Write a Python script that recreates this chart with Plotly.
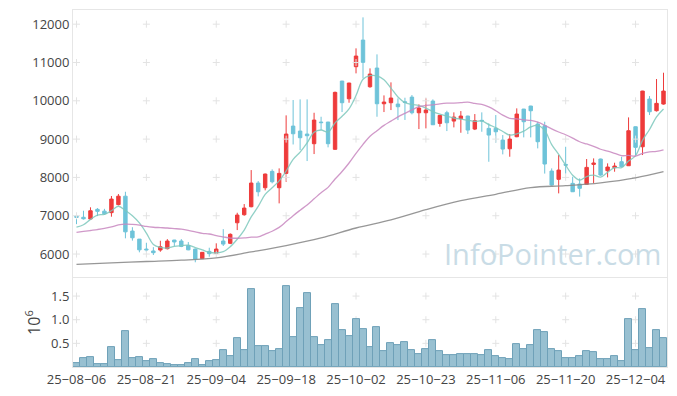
import plotly.graph_objects as go
import pandas as pd

# ---------------- data ----------------
dates = [
    "25-08-06", "25-08-07", "25-08-08", "25-08-11", "25-08-12", "25-08-13", "25-08-14", "25-08-18",
    "25-08-19", "25-08-20", "25-08-21", "25-08-22", "25-08-25", "25-08-26", "25-08-27", "25-08-28",
    "25-08-29", "25-09-01", "25-09-02", "25-09-03", "25-09-04", "25-09-05", "25-09-08", "25-09-09",
    "25-09-10", "25-09-11", "25-09-12", "25-09-15", "25-09-16", "25-09-17", "25-09-18", "25-09-19",
    "25-09-22", "25-09-23", "25-09-24", "25-09-25", "25-09-26", "25-09-29", "25-09-30", "25-10-01",
    "25-10-02", "25-10-10", "25-10-13", "25-10-14", "25-10-15", "25-10-16", "25-10-17", "25-10-20",
    "25-10-21", "25-10-22", "25-10-23", "25-10-24", "25-10-27", "25-10-28", "25-10-29", "25-10-30",
    "25-10-31", "25-11-03", "25-11-04", "25-11-05", "25-11-06", "25-11-07", "25-11-10", "25-11-11",
    "25-11-12", "25-11-13", "25-11-14", "25-11-17", "25-11-18", "25-11-19", "25-11-20", "25-11-21",
    "25-11-24", "25-11-25", "25-11-26", "25-11-27", "25-11-28", "25-12-01", "25-12-02", "25-12-03",
    "25-12-04", "25-12-05", "25-12-08", "25-12-09", "25-12-10",
]

open_ = [6990, 6960, 6914, 7167, 7120, 7080, 7290, 7510, 6600, 6390,
         6130, 6080, 6105, 6140, 6365, 6340, 6225, 6130, 5880, 6070,
         6020, 6340, 6280, 6817, 7026, 7235, 7853, 7731, 8158, 7731,
         8105, 9340, 9210, 9132, 8880, 9445, 9445, 8733, 10515, 10053,
         10890, 11585, 10367, 10855, 9923, 9950, 9915, 9975, 10096, 9688,
         9688, 9993, 9410, 9688, 9471, 9532, 9602, 9262, 9490, 9280,
         9280, 8975, 8748, 9062, 9784, 9863, 9393, 9349, 8166, 7950,
         8340, 7845, 7827, 7820, 8340, 8480, 8175, 8253, 8410, 8305,
         9323, 8800, 10045, 9741, 9915]
high = [7000, 7130, 7220, 7200, 7180, 7515, 7566, 7626, 6700, 6390,
        6295, 6180, 6347, 6390, 6370, 6390, 6313, 6140, 6050, 6165,
        6280, 6650, 6540, 7078, 7305, 8192, 7905, 8100, 8210, 8236,
        9620, 10020, 10037, 10037, 9688, 9584, 9450, 10240, 10520, 10470,
        11369, 12178, 10846, 11212, 10141, 10481, 10063, 10080, 10150, 9907,
        10063, 10037, 9625, 9740, 9698, 9732, 9610, 9654, 9698, 9410,
        9628, 9106, 9132, 9802, 9790, 9870, 9454, 9454, 8236, 8584,
        8800, 8018, 7975, 8480, 8497, 8490, 8367, 8384, 8540, 9567,
        9330, 10260, 10124, 10568, 10733]
low = [6780, 6900, 6890, 6990, 7020, 6975, 7270, 6410, 6350, 6045,
       6050, 5975, 6060, 6120, 6210, 6180, 6100, 5785, 5870, 5930,
       6010, 6210, 6260, 6626, 7000, 7220, 7505, 7662, 7845, 7323,
       7887, 8860, 8714, 8427, 8610, 9236, 8785, 8720, 9706, 9950,
       10716, 10586, 10340, 9584, 9706, 9758, 9497, 9500, 9646, 9262,
       9280, 9370, 9323, 9210, 9306, 9166, 9132, 9236, 9192, 8409,
       8906, 8602, 8540, 9050, 9045, 9045, 8758, 8100, 7780, 7584,
       8100, 7620, 7500, 7810, 7850, 8040, 8001, 8149, 8270, 8300,
       8584, 8584, 9628, 9720, 9900]
close = [6960, 6920, 7130, 7115, 7050, 7435, 7510, 6580, 6425, 6110,
         6110, 6035, 6190, 6340, 6315, 6200, 6110, 5870, 6045, 6010,
         6130, 6260, 6515, 7018, 7200, 7853, 7626, 8088, 7887, 8105,
         9132, 9140, 9036, 9088, 9497, 9430, 8880, 10220, 9950, 10463,
         11168, 11003, 10698, 9923, 9967, 10072, 9845, 9955, 9688, 9810,
         9758, 9375, 9620, 9427, 9575, 9602, 9236, 9480, 9475, 9106,
         9192, 8740, 9001, 9654, 9454, 9740, 8932, 8350, 7800, 8192,
         8320, 7626, 7715, 8262, 8375, 8062, 8271, 8297, 8280, 9219,
         8785, 10254, 9714, 9933, 10254]

volume = [90000, 190000, 210000, 70000, 70000, 430000, 140000, 760000, 180000, 210000,
          120000, 160000, 90000, 70000, 50000, 50000, 90000, 160000, 50000, 120000,
          140000, 350000, 240000, 610000, 350000, 1650000, 450000, 450000, 330000, 380000,
          1720000, 640000, 1250000, 1560000, 640000, 470000, 570000, 1330000, 780000, 660000,
          1010000, 800000, 430000, 850000, 330000, 510000, 470000, 530000, 350000, 280000,
          380000, 570000, 330000, 260000, 260000, 280000, 280000, 280000, 260000, 350000,
          240000, 180000, 160000, 490000, 370000, 470000, 790000, 730000, 370000, 330000,
          180000, 180000, 240000, 330000, 310000, 160000, 160000, 240000, 120000, 1020000,
          350000, 1230000, 390000, 790000, 620000]

ma5_head = [6700, 6765, 6905, 7018]
ma20_head = [6566, 6590, 6615, 6640, 6670, 6710, 6760, 6783, 6775, 6755,
             6720, 6700, 6690, 6680, 6665, 6650, 6620, 6580, 6540]
ma60_idx = [0, 5, 10, 15, 20, 25, 30, 35, 40, 45, 50, 55, 60, 65, 70, 75, 80, 84]
ma60_val = [5731, 5770, 5805, 5840, 5900, 6055, 6220, 6420, 6680, 6890,
            7160, 7395, 7560, 7735, 7785, 7860, 7990, 8150]

price_ticks = [6000, 7000, 8000, 9000, 10000, 11000, 12000]
vol_ticks = [0.5, 1.0, 1.5]
x_ticks = dates[::10]
x_ticktext = [d.replace("-", "\u2212") for d in x_ticks]

# ---------------- derived ----------------
cs = pd.Series(close, dtype=float)
ma5 = cs.rolling(5).mean().tolist()
ma5[:len(ma5_head)] = ma5_head
ma20 = cs.rolling(20).mean().tolist()
ma20[:len(ma20_head)] = ma20_head
vol_m = [v / 1e6 for v in volume]

GRID = "#e3e3e3"
FRAME = "#e6e6e6"
VOL_RANGE = [0, 1.88]

fig = go.Figure()

# grid crosses at tick intersections
gx = [d for d in x_ticks for _ in price_ticks]
gy = [p for _ in x_ticks for p in price_ticks]
fig.add_trace(go.Scatter(x=gx, y=gy, mode="markers", xaxis="x", yaxis="y",
                         marker=dict(symbol="cross-thin", size=5, line=dict(color=GRID, width=1)),
                         hoverinfo="skip", showlegend=False))
gx2 = [d for d in x_ticks for _ in vol_ticks]
gy2 = [v for _ in x_ticks for v in vol_ticks]
fig.add_trace(go.Scatter(x=gx2, y=gy2, mode="markers", xaxis="x2", yaxis="y2",
                         marker=dict(symbol="cross-thin", size=5, line=dict(color=GRID, width=1)),
                         hoverinfo="skip", showlegend=False))

fig.add_trace(go.Candlestick(
    x=dates, open=open_, high=high, low=low, close=close,
    increasing=dict(line=dict(color="#ee3b3b", width=1), fillcolor="#ee3b3b"),
    decreasing=dict(line=dict(color="#6ec3d9", width=1), fillcolor="#6ec3d9"),
    whiskerwidth=0, xaxis="x", yaxis="y", showlegend=False, hoverinfo="skip"))

fig.add_trace(go.Scatter(x=dates, y=ma5, mode="lines", xaxis="x", yaxis="y",
                         line=dict(color="rgba(125,200,188,0.85)", width=1.3, shape="spline"),
                         showlegend=False, hoverinfo="skip"))
fig.add_trace(go.Scatter(x=dates, y=ma20, mode="lines", xaxis="x", yaxis="y",
                         line=dict(color="rgba(200,135,192,0.85)", width=1.3, shape="spline"),
                         showlegend=False, hoverinfo="skip"))
fig.add_trace(go.Scatter(x=[dates[i] for i in ma60_idx], y=ma60_val, mode="lines",
                         xaxis="x", yaxis="y",
                         line=dict(color="rgba(140,140,140,0.9)", width=1.3, shape="spline"),
                         showlegend=False, hoverinfo="skip"))

# volume bars on an overlaying axis so they sit above the grid crosses
fig.add_trace(go.Bar(x=dates, y=vol_m, xaxis="x2", yaxis="y3",
                     marker=dict(color="#98c0d1", line=dict(color="#6fa1b8", width=1)),
                     showlegend=False, hoverinfo="skip"))

fig.add_annotation(text="InfoPointer.com", xref="paper", yref="paper",
                   x=0.993, y=0.318, xanchor="right", yanchor="middle", showarrow=False,
                   font=dict(family="Open Sans", size=29, color="#c9dce6"))

axis_common = dict(showgrid=False, zeroline=False, showline=True, linecolor=FRAME,
                   linewidth=1, mirror=True, ticks="")

# the page body adds an 8px offset; the figure is sized to fill the rest of the window
fig.update_layout(
    width=669, height=388,
    margin=dict(l=65, r=10, t=2, b=29),
    paper_bgcolor="white", plot_bgcolor="white",
    font=dict(family="Open Sans", size=13, color="#444"),
    bargap=0,
    showlegend=False,
    xaxis=dict(type="category", anchor="y", range=[-0.5, len(dates) - 0.5],
               showticklabels=False, rangeslider=dict(visible=False),
               categoryorder="array", categoryarray=dates, **axis_common),
    xaxis2=dict(type="category", anchor="y2", matches="x", range=[-0.5, len(dates) - 0.5],
                tickmode="array", tickvals=x_ticks, ticktext=x_ticktext,
                categoryorder="array", categoryarray=dates, **axis_common),
    yaxis=dict(domain=[0.252, 1], range=[5400, 12370], tickmode="array",
               tickvals=price_ticks, tickformat="d", **axis_common),
    yaxis2=dict(domain=[0, 0.249], range=VOL_RANGE, tickmode="array",
                tickvals=vol_ticks, tickformat=".1f",
                title=dict(text="10<sup>6</sup>", standoff=6), **axis_common),
    yaxis3=dict(overlaying="y2", anchor="x2", range=VOL_RANGE, visible=False,
                showgrid=False, zeroline=False),
)

fig.write_html("out.html")
